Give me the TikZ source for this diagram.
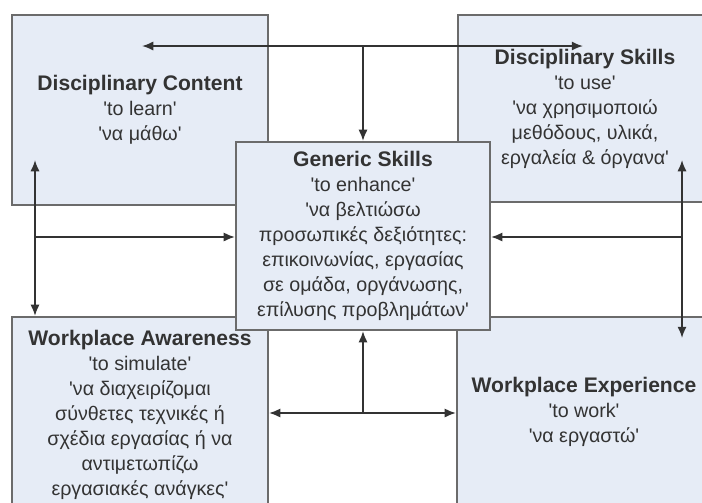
\documentclass[tikz,border=0pt]{standalone}
\usepackage{fontspec}
\setmainfont{Liberation Sans}
\usetikzlibrary{arrows.meta}
\definecolor{boxfill}{HTML}{E6ECF6}
\definecolor{boxline}{HTML}{6B6B6B}
\definecolor{txt}{HTML}{333333}
\newcommand{\hd}[1]{{\fontsize{15}{17.8}\selectfont\bfseries #1}}
\newcommand{\qt}{\textquotesingle}

\begin{document}
\begin{tikzpicture}[x=0.025cm,y=-0.025cm,
        area/.style={draw=boxline,fill=boxfill,line width=1.5pt,align=center,
            text=txt,font=\fontsize{14}{17.8}\selectfont,inner sep=0pt},
        link/.style={draw=txt,line width=1.2pt,>={Latex[length=8pt,width=6.5pt]}}]
    \clip (0,0) rectangle (702,502);

    \node[area,minimum width=6.4cm,minimum height=4.75cm] (dc) at (140,110)
        {\hd{Disciplinary Content}\\ \qt to learn\qt\\ \qt να μάθω\qt};
    \node[area,minimum width=6.35cm,minimum height=4.675cm] (ds) at (585,108.5)
        {\hd{Disciplinary Skills}\\ \qt to use\qt\\ \qt να χρησιμοποιώ\\
         μεθόδους, υλικά,\\ εργαλεία \& όργανα\qt};
    \node[area,minimum width=6.4cm,minimum height=4.875cm] (wa) at (140,414.5)
        {\hd{Workplace Awareness}\\ \qt to simulate\qt\\ \qt να διαχειρίζομαι\\
         σύνθετες τεχνικές ή\\ σχέδια εργασίας ή να\\ αντιμετωπίζω\\
         εργασιακές ανάγκες\qt};
    \node[area,minimum width=6.35cm,minimum height=4.75cm] (we) at (584,412)
        {\hd{Workplace Experience}\\ \qt to work\qt\\ \qt να εργαστώ\qt};
    \node[area,minimum width=6.35cm,minimum height=4.7cm] (gs) at (363,236)
        {\hd{Generic Skills}\\ \qt to enhance\qt\\ \qt να βελτιώσω\\
         προσωπικές δεξιότητες:\\ επικοινωνίας, εργασίας\\
         σε ομάδα, οργάνωσης,\\ επίλυσης προβλημάτων\qt};

    % free ends of the connectors
    \coordinate (tl) at (142,46);
    \coordinate (tr) at (583,46);
    \coordinate (tm) at (363,46);
    \coordinate (lu) at (35,160);
    \coordinate (lm) at (35,237);
    \coordinate (ru) at (682,160);
    \coordinate (rm) at (682,237);
    \coordinate (rd) at (682,338);
    \coordinate (bm) at (363,413);

    \draw[link,<->] (tl) -- (tr);
    \draw[link,->] (tm) -- (gs.north);
    \draw[link,<->] (lu) -- (lu |- wa.north);
    \draw[link,->] (lm) -- (lm -| gs.west);
    \draw[link,<->] (ru) -- (rd);
    \draw[link,->] (rm) -- (rm -| gs.east);
    \draw[link,->] (bm) -- (gs.south);
    \draw[link,<->] (bm -| wa.east) -- (bm -| we.west);
\end{tikzpicture}
\end{document}
